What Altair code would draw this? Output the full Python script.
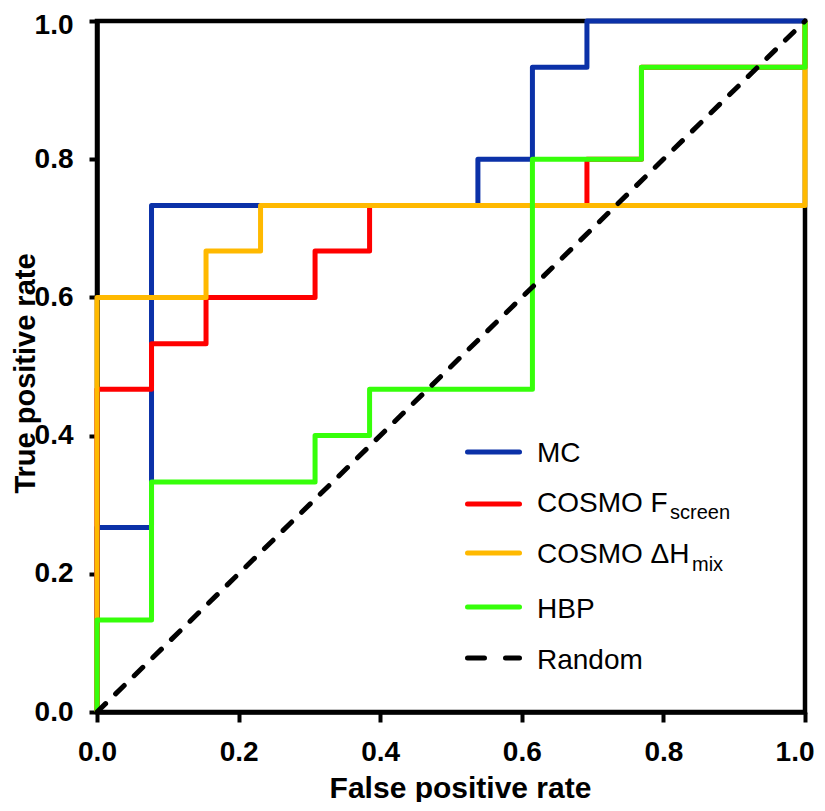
import altair as alt
import pandas as pd

# ---- data (ROC curve vertices) ----
mc_fpr = [0.0, 0.0, 0.077, 0.077, 0.538, 0.538, 0.615, 0.615, 0.692, 0.692, 1.0]
mc_tpr = [0.0, 0.267, 0.267, 0.733, 0.733, 0.8, 0.8, 0.933, 0.933, 1.0, 1.0]

fs_fpr = [0.0, 0.0, 0.077, 0.077, 0.154, 0.154, 0.308, 0.308, 0.385, 0.385, 0.692, 0.692, 0.769, 0.769, 1.0, 1.0]
fs_tpr = [0.0, 0.467, 0.467, 0.533, 0.533, 0.6, 0.6, 0.667, 0.667, 0.733, 0.733, 0.8, 0.8, 0.933, 0.933, 1.0]

dh_fpr = [0.0, 0.0, 0.154, 0.154, 0.231, 0.231, 1.0, 1.0]
dh_tpr = [0.0, 0.6, 0.6, 0.667, 0.667, 0.733, 0.733, 1.0]

hbp_fpr = [0.0, 0.0, 0.077, 0.077, 0.308, 0.308, 0.385, 0.385, 0.615, 0.615, 0.769, 0.769, 1.0, 1.0]
hbp_tpr = [0.0, 0.133, 0.133, 0.333, 0.333, 0.4, 0.4, 0.467, 0.467, 0.8, 0.8, 0.933, 0.933, 1.0]

rnd_fpr = [0.0, 1.0]
rnd_tpr = [0.0, 1.0]

tick_values = [0.0, 0.2, 0.4, 0.6, 0.8, 1.0]

series_names = ["MC", "COSMO Fscreen", "COSMO ΔHmix", "HBP", "Random"]
colors = ["#0B31A8", "#FF0000", "#FFB900", "#36FF0A", "#000000"]

FONT = "Liberation Sans"
W, H = 708, 691

xaxis = alt.Axis(values=tick_values, format=".1f", title="False positive rate", grid=False,
                 tickSize=10, tickWidth=4, tickColor="black", domainColor="black", domainWidth=4.5,
                 labelFont=FONT, labelFontSize=28, labelFontWeight="bold", labelColor="black",
                 labelPadding=16, labelFlush=False, labelOverlap=False,
                 labelAlign={"condition": {"test": "datum.value == 1", "value": "right"}, "value": "center"},
                 labelOffset={"condition": {"test": "datum.value == 1", "value": 9}, "value": 0},
                 titleFont=FONT, titleFontSize=30, titleFontWeight="bold", titleColor="black",
                 titleX=363, titleY=85, titleBaseline="alphabetic", titleAlign="center")
yaxis = alt.Axis(values=tick_values, format=".1f", title="True positive rate", grid=False,
                 tickSize=8, tickWidth=4, tickColor="black", domainColor="black", domainWidth=4.5,
                 labelFont=FONT, labelFontSize=28, labelFontWeight="bold", labelColor="black",
                 labelPadding=16, labelFlush=False, labelOverlap=False,
                 labelOffset={"condition": {"test": "datum.value == 1", "value": 4}, "value": 0},
                 titleFont=FONT, titleFontSize=29, titleFontWeight="bold", titleColor="black",
                 titleX=-63, titleY=352, titleBaseline="alphabetic", titleAlign="center", titleAngle=270)

xs = alt.Scale(domain=[0, 1], nice=False, zero=False)
ys = alt.Scale(domain=[0, 1], nice=False, zero=False)


def curve(fpr, tpr, color, dash=None):
    df = pd.DataFrame({"fpr": fpr, "tpr": tpr, "idx": list(range(len(fpr)))})
    kw = dict(color=color, strokeWidth=5, strokeJoin="round")
    if dash:
        kw.update(strokeDash=dash, strokeCap="round")
    return alt.Chart(df).mark_line(**kw).encode(
        x=alt.X("fpr:Q", scale=xs, axis=xaxis),
        y=alt.Y("tpr:Q", scale=ys, axis=yaxis),
        order=alt.Order("idx:Q"),
    )


layers = [
    curve(mc_fpr, mc_tpr, colors[0]),
    curve(fs_fpr, fs_tpr, colors[1]),
    curve(dh_fpr, dh_tpr, colors[2]),
    curve(hbp_fpr, hbp_tpr, colors[3]),
    curve(rnd_fpr, rnd_tpr, colors[4], dash=[12, 14]),
]

# ---- custom legend (pixel positions inside plot area) ----
one = pd.DataFrame({"k": [0]})
main_labels = ["MC", "COSMO F", "COSMO ΔH", "HBP", "Random"]
sym_y = [431, 483, 532, 586, 637]
txt_y = [441, 491, 542, 597, 648]
for i in range(5):
    rk = dict(color=colors[i], strokeWidth=5, strokeCap="round")
    if i == 4:
        rk["strokeDash"] = [17, 21]
    layers.append(alt.Chart(one).mark_rule(**rk).encode(
        x=alt.value(370.5), x2=alt.value(422.5), y=alt.value(sym_y[i])))
    layers.append(alt.Chart(one).mark_text(
        text=main_labels[i], align="left", baseline="alphabetic", font=FONT,
        fontSize=28, color="black").encode(x=alt.value(440), y=alt.value(txt_y[i])))

subs = [("screen", 573, 498), ("mix", 595, 550)]
for s, sx, sy in subs:
    layers.append(alt.Chart(one).mark_text(
        text=s, align="left", baseline="alphabetic", font=FONT,
        fontSize=20, color="black").encode(x=alt.value(sx), y=alt.value(sy)))

chart = alt.layer(*layers).properties(
    width=W, height=H,
    autosize=alt.AutoSizeParams(type="none"),
    padding={"left": 89, "top": 13, "right": 10, "bottom": 90},
).configure_view(stroke="black", strokeWidth=4.5)

chart.save("out.html", embed_options={"renderer": "svg", "actions": False})
